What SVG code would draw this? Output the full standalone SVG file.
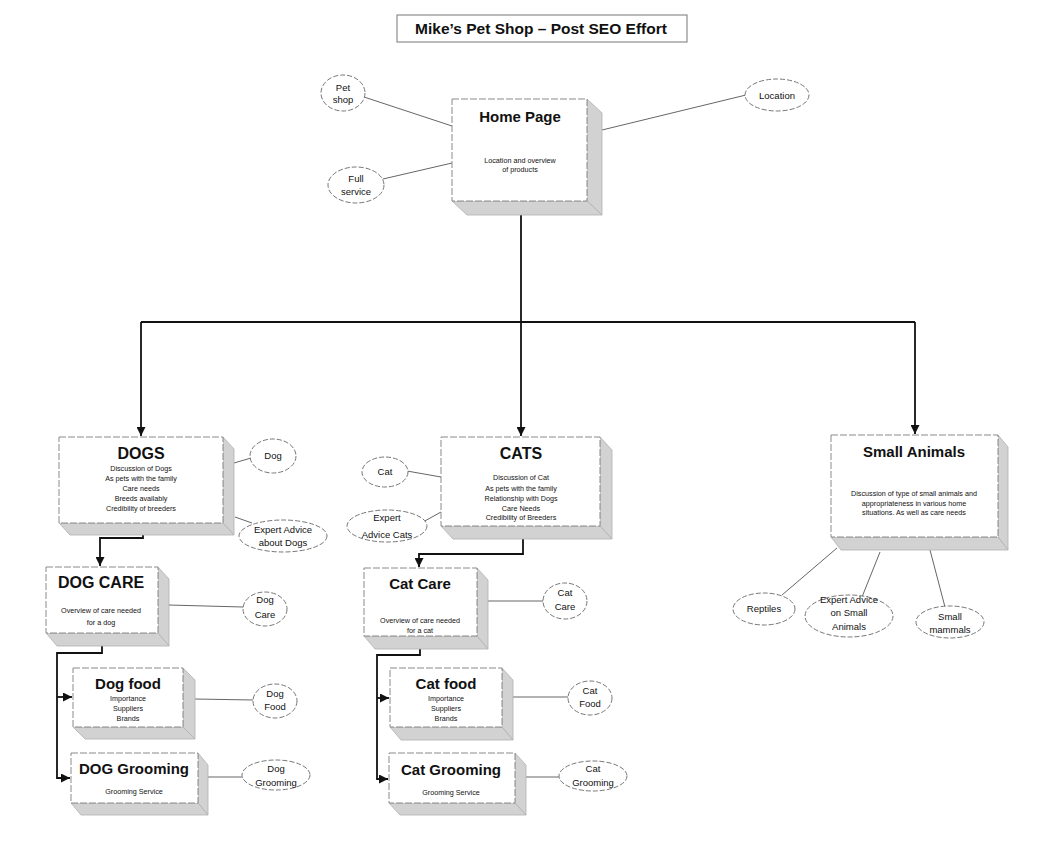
<svg xmlns="http://www.w3.org/2000/svg" width="1053" height="841" viewBox="0 0 1053 841">
<style>
text{font-family:"Liberation Sans",Arial,sans-serif;fill:#111;text-anchor:middle}
.t{font-weight:bold;font-size:15px}
.s{font-size:7.2px}
.e{font-size:9.5px}
.face{fill:#fff;stroke:#8a8a8a;stroke-width:1;stroke-dasharray:7 2}
.side{fill:#d2d2d2;stroke:#b0b0b0;stroke-width:0.8}
.oval{fill:#fff;stroke:#777;stroke-width:1;stroke-dasharray:5 2}
.ln{stroke:#666;stroke-width:1;fill:none}
.cn{stroke:#111;stroke-width:1.8;fill:none}
</style>
<defs>
<marker id="ah" viewBox="0 0 10 10" refX="10" refY="5" markerWidth="9" markerHeight="9" markerUnits="userSpaceOnUse" orient="auto">
<path d="M0,0 L10,5 L0,10 z" fill="#111"/>
</marker>
</defs>
<rect width="1053" height="841" fill="#fff"/>

<g id="title">
<rect x="397" y="15" width="290" height="27" fill="#fff" stroke="#777" stroke-width="1"/>
<text x="541" y="34" style="font-weight:bold;font-size:15.5px">Mike’s Pet Shop – Post SEO Effort</text>
</g>

<g id="connectors">
<line class="ln" x1="364" y1="97" x2="452" y2="126"/>
<line class="ln" x1="383" y1="179" x2="452" y2="163"/>
<line class="ln" x1="602" y1="130" x2="746" y2="95"/>
<line class="ln" x1="234" y1="463" x2="251" y2="458"/>
<line class="ln" x1="235" y1="517" x2="252" y2="523"/>
<line class="ln" x1="407" y1="471" x2="441" y2="477"/>
<line class="ln" x1="423" y1="522" x2="441" y2="512"/>
<line class="ln" x1="168" y1="605" x2="243" y2="607"/>
<line class="ln" x1="488" y1="601" x2="543" y2="601"/>
<line class="ln" x1="195" y1="699" x2="253" y2="700"/>
<line class="ln" x1="512" y1="697" x2="568" y2="697"/>
<line class="ln" x1="208" y1="777" x2="242" y2="777"/>
<line class="ln" x1="526" y1="777" x2="559" y2="777"/>
<line class="ln" x1="782" y1="595" x2="837" y2="548"/>
<line class="ln" x1="862" y1="597" x2="880" y2="552"/>
<line class="ln" x1="945" y1="607" x2="930" y2="550"/>
<path class="cn" d="M521,215 V322"/>
<path class="cn" d="M141,322 H915"/>
<path class="cn" d="M141,322 V436" marker-end="url(#ah)"/>
<path class="cn" d="M521,322 V436" marker-end="url(#ah)"/>
<path class="cn" d="M915,322 V434" marker-end="url(#ah)"/>
<path class="cn" d="M143,535 V538 H100 V566" marker-end="url(#ah)"/>
<path class="cn" d="M523,539 V554 H419 V567" marker-end="url(#ah)"/>
<path class="cn" d="M102,645 V653 H57 V778 H70" marker-end="url(#ah)"/>
<path class="cn" d="M57,697 H72" marker-end="url(#ah)"/>
<path class="cn" d="M420,649 V655 H377 V779 H388" marker-end="url(#ah)"/>
<path class="cn" d="M377,698 H389" marker-end="url(#ah)"/>
</g>

<g id="home">
<polygon class="side" points="587,99 602,113 602,215 587,201"/>
<polygon class="side" points="452,201 467,215 602,215 587,201"/>
<rect class="face" x="452" y="99" width="135" height="102"/>
<text class="t" x="520" y="122">Home Page</text>
<text class="s" x="520" y="162.5">Location and overview</text>
<text class="s" x="520" y="171.5">of products</text>
</g>
<g id="petshop"><ellipse class="oval" cx="343" cy="93" rx="22" ry="18"/><text class="e" x="343" y="91">Pet</text><text class="e" x="343" y="103">shop</text></g>
<g id="fullservice"><ellipse class="oval" cx="356" cy="185" rx="28" ry="18"/><text class="e" x="356" y="182">Full</text><text class="e" x="356" y="195">service</text></g>
<g id="location"><ellipse class="oval" cx="777" cy="95" rx="32" ry="16"/><text class="e" x="777" y="99">Location</text></g>

<g id="dogs">
<polygon class="side" points="223,437 234,449 234,535 223,523"/>
<polygon class="side" points="59,523 70,535 234,535 223,523"/>
<rect class="face" x="59" y="437" width="164" height="86"/>
<text class="t" x="141" y="459" style="font-size:16px">DOGS</text>
<text class="s" x="141" y="470.5">Discussion of Dogs</text>
<text class="s" x="141" y="480.5">As pets with the family</text>
<text class="s" x="141" y="491">Care needs</text>
<text class="s" x="141" y="501">Breeds availably</text>
<text class="s" x="141" y="511">Credibility of breeders</text>
</g>
<g id="dog"><ellipse class="oval" cx="273" cy="456" rx="23" ry="17"/><text class="e" x="273" y="459">Dog</text></g>
<g id="expertdogs"><ellipse class="oval" cx="283" cy="536" rx="44" ry="16"/><text class="e" x="283" y="533">Expert Advice</text><text class="e" x="283" y="546">about Dogs</text></g>

<g id="dogcare">
<polygon class="side" points="158,567 169,579 169,646 158,633"/>
<polygon class="side" points="46,633 57,646 169,646 158,633"/>
<rect class="face" x="46" y="567" width="112" height="66"/>
<text class="t" x="101" y="588" style="font-size:16px">DOG CARE</text>
<text class="s" x="101" y="612.5">Overview of care needed</text>
<text class="s" x="101" y="624.5">for a dog</text>
</g>
<g id="dogcareoval"><ellipse class="oval" cx="265" cy="609" rx="22" ry="17"/><text class="e" x="265" y="603">Dog</text><text class="e" x="265" y="618">Care</text></g>

<g id="dogfood">
<polygon class="side" points="183,668 195,680 195,739 183,727"/>
<polygon class="side" points="73,727 85,739 195,739 183,727"/>
<rect class="face" x="73" y="668" width="110" height="59"/>
<text class="t" x="128" y="689">Dog food</text>
<text class="s" x="128" y="700.5">Importance</text>
<text class="s" x="128" y="710.5">Suppliers</text>
<text class="s" x="128" y="720.5">Brands</text>
</g>
<g id="dogfoodoval"><ellipse class="oval" cx="275" cy="701" rx="22" ry="17"/><text class="e" x="275" y="697">Dog</text><text class="e" x="275" y="710">Food</text></g>

<g id="doggrooming">
<polygon class="side" points="198,753 208,765 208,815 198,803"/>
<polygon class="side" points="71,803 81,815 208,815 198,803"/>
<rect class="face" x="71" y="753" width="127" height="50"/>
<text class="t" x="134" y="774">DOG Grooming</text>
<text class="s" x="134" y="793.5">Grooming Service</text>
</g>
<g id="doggroomingoval"><ellipse class="oval" cx="276" cy="775" rx="34" ry="15"/><text class="e" x="276" y="772">Dog</text><text class="e" x="276" y="786">Grooming</text></g>

<g id="cats">
<polygon class="side" points="600,437 612,450 612,539 600,526"/>
<polygon class="side" points="441,526 453,539 612,539 600,526"/>
<rect class="face" x="441" y="437" width="159" height="89"/>
<text class="t" x="521" y="459" style="font-size:16px">CATS</text>
<text class="s" x="521" y="480">Discussion of Cat</text>
<text class="s" x="521" y="491">As pets with the family</text>
<text class="s" x="521" y="500.5">Relationship with Dogs</text>
<text class="s" x="521" y="510.5">Care Needs</text>
<text class="s" x="521" y="520">Credibility of Breeders</text>
</g>
<g id="cat"><ellipse class="oval" cx="385" cy="472" rx="23" ry="15"/><text class="e" x="385" y="475">Cat</text></g>
<g id="expertcats"><ellipse class="oval" cx="387" cy="526" rx="40" ry="16"/><text class="e" x="387" y="521">Expert</text><text class="e" x="387" y="538">Advice Cats</text></g>

<g id="catcare">
<polygon class="side" points="477,568 488,580 488,649 477,636"/>
<polygon class="side" points="364,636 375,649 488,649 477,636"/>
<rect class="face" x="364" y="568" width="113" height="68"/>
<text class="t" x="420" y="589">Cat Care</text>
<text class="s" x="420" y="622.5">Overview of care needed</text>
<text class="s" x="420" y="632.5">for a cat</text>
</g>
<g id="catcareoval"><ellipse class="oval" cx="565" cy="601" rx="22" ry="18"/><text class="e" x="565" y="596">Cat</text><text class="e" x="565" y="610">Care</text></g>

<g id="catfood">
<polygon class="side" points="502,668 513,680 513,740 502,727"/>
<polygon class="side" points="390,727 401,740 513,740 502,727"/>
<rect class="face" x="390" y="668" width="112" height="59"/>
<text class="t" x="446" y="689">Cat food</text>
<text class="s" x="446" y="700.5">Importance</text>
<text class="s" x="446" y="710.5">Suppliers</text>
<text class="s" x="446" y="721">Brands</text>
</g>
<g id="catfoodoval"><ellipse class="oval" cx="590" cy="698" rx="22" ry="17"/><text class="e" x="590" y="694">Cat</text><text class="e" x="590" y="707">Food</text></g>

<g id="catgrooming">
<polygon class="side" points="515,753 526,765 526,815 515,803"/>
<polygon class="side" points="389,803 400,815 526,815 515,803"/>
<rect class="face" x="389" y="753" width="126" height="50"/>
<text class="t" x="451" y="775">Cat Grooming</text>
<text class="s" x="451" y="794.5">Grooming Service</text>
</g>
<g id="catgroomingoval"><ellipse class="oval" cx="593" cy="776" rx="34" ry="15"/><text class="e" x="593" y="772">Cat</text><text class="e" x="593" y="786">Grooming</text></g>

<g id="smallanimals">
<polygon class="side" points="998,435 1008,447 1008,550 998,537"/>
<polygon class="side" points="831,537 841,550 1008,550 998,537"/>
<rect class="face" x="831" y="435" width="167" height="102"/>
<text class="t" x="914" y="456.5">Small Animals</text>
<text class="s" x="914" y="495.5">Discussion of type of small animals and</text>
<text class="s" x="914" y="505.5">appropriateness in various home</text>
<text class="s" x="914" y="514.5">situations. As well as care needs</text>
</g>
<g id="reptiles"><ellipse class="oval" cx="764" cy="609" rx="31" ry="16"/><text class="e" x="764" y="612">Reptiles</text></g>
<g id="expertsmall"><ellipse class="oval" cx="849" cy="616" rx="44" ry="21"/><text class="e" x="849" y="603">Expert Advice</text><text class="e" x="849" y="616">on Small</text><text class="e" x="849" y="630">Animals</text></g>
<g id="smallmammals"><ellipse class="oval" cx="950" cy="622" rx="34" ry="16"/><text class="e" x="950" y="620">Small</text><text class="e" x="950" y="633">mammals</text></g>
</svg>
